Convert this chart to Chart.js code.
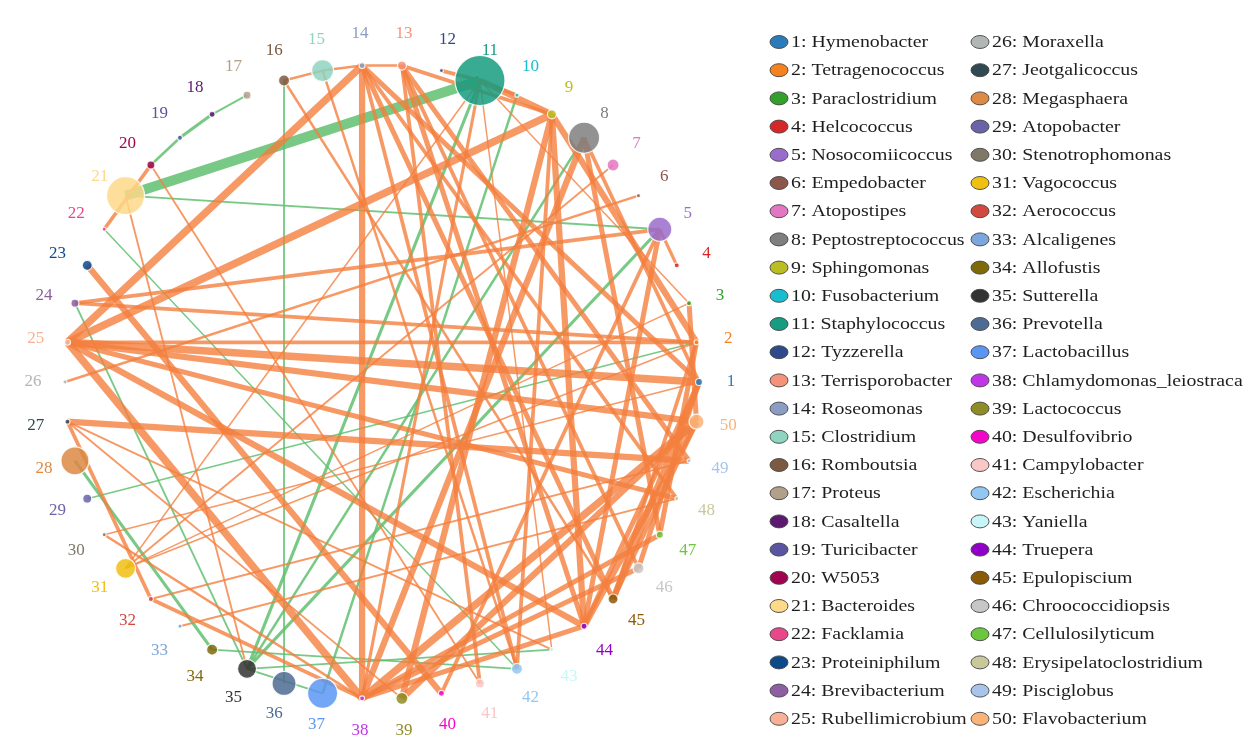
<!DOCTYPE html>
<html>
<head>
<meta charset="utf-8">
<title>Co-occurrence network</title>
<script src="https://cdn.jsdelivr.net/npm/chart.js@4.4.1/dist/chart.umd.min.js"></script>
<style>
  html, body { margin: 0; padding: 0; background: #ffffff; }
  #wrap { width: 1248px; height: 744px; position: relative; }
</style>
</head>
<body>
<div id="wrap"><canvas id="c" width="1248" height="744"></canvas></div>
<script>
// ---------------- DATA ----------------
const nodeNames = ["Hymenobacter","Tetragenococcus","Paraclostridium","Helcococcus","Nosocomiicoccus","Empedobacter","Atopostipes","Peptostreptococcus","Sphingomonas","Fusobacterium","Staphylococcus","Tyzzerella","Terrisporobacter","Roseomonas","Clostridium","Romboutsia","Proteus","Casaltella","Turicibacter","W5053","Bacteroides","Facklamia","Proteiniphilum","Brevibacterium","Rubellimicrobium","Moraxella","Jeotgalicoccus","Megasphaera","Atopobacter","Stenotrophomonas","Vagococcus","Aerococcus","Alcaligenes","Allofustis","Sutterella","Prevotella","Lactobacillus","Chlamydomonas_leiostraca","Lactococcus","Desulfovibrio","Campylobacter","Escherichia","Yaniella","Truepera","Epulopiscium","Chroococcidiopsis","Cellulosilyticum","Erysipelatoclostridium","Pisciglobus","Flavobacterium"];

// node weight (drawn as point radius)
const nodeWeight = [3.5,2.5,2.5,2.5,12,2,6,15.5,4.5,2,25,2,4.5,3,11,5.5,4,3,2.5,4,19,2,5,4,3,2,2.5,14,4.5,2,10,2.5,2,5.5,9.5,12,15,2.5,6,3,4.5,5.5,2,3,5,5.5,3.5,2,2,7.5];

// edges: source, target, strength, sign (1 positive, -1 negative)
const edgeFrom   = [17,18,19,21,21,22,16,24,28,29,34,35,35,11,10,8,5,
                    14,13,15,14,14,14,14,14,14,13,13,13,13,12,11,11,11,11,11,11,9,9,9,9,25,13,8,8,8,7,26,24,24,5,5,5,3,25,25,25,25,25,25,27,27,27,27,30,31,31,32,32,33,20,21,20,23,16,15,44,45,46,47,39,38,38,38,30,45,38,1,2];
const edgeTo     = [18,19,20,11,5,42,36,35,34,2,42,43,37,35,37,35,35,
                    15,14,16,25,38,45,1,48,42,49,41,46,44,11,10,9,3,43,31,38,2,39,44,42,9,9,38,47,1,31,6,5,2,4,44,40,50,2,1,50,44,38,48,49,39,32,43,1,3,2,49,38,48,22,35,41,40,45,42,50,1,1,2,50,50,46,44,38,50,47,44,45];
const edgeStrength = [1.5,2.5,2,8,1.5,1.2,1.5,1.5,2.5,1.2,1.5,1.5,1.5,2.5,2,2,2.5,
                    2,2,2,6,5,4,4,3,3,4,3,3,4,3,3,5,1.2,1.2,1.2,2.5,5,5,5,3,6,3,5,4,3,1.5,2,3,3,2.5,4,3,4,3,6,5,5,6,4,5,1.5,3,1.5,1.2,1.2,1.2,1.5,3,1.5,3,1.5,1.5,5,2,2,5,5,4,4,5,6,4,4,2,4,4,4,3];
const edgeSign   = [-1,-1,-1,-1,-1,-1,-1,-1,-1,-1,-1,-1,-1,-1,-1,-1,-1,
                    1,1,1,1,1,1,1,1,1,1,1,1,1,1,1,1,1,1,1,1,1,1,1,1,1,1,1,1,1,1,1,1,1,1,1,1,1,1,1,1,1,1,1,1,1,1,1,1,1,1,1,1,1,1,1,1,1,1,1,1,1,1,1,1,1,1,1,1,1,1,1,1];

// ---------------- STYLES ----------------
const nodeColors = ["#2b7bba","#f5811f","#33a02c","#d62728","#9a6ccd","#8c564b","#e377c2","#7f7f7f","#bcbd22","#17becf",
                    "#169c80","#2e4a8b","#f4937a","#8b9dc3","#8fd4c1","#7b5a41","#b3a088","#5b1a70","#5a55a0","#a0034f",
                    "#fdd98a","#e8488a","#0d4a8c","#8e5ea2","#f8b196","#b0b7b5","#2f4a52","#dc8a44","#6a63a8","#7f7868",
                    "#f0c010","#d2493f","#7ba7dc","#7f6a0a","#333333","#4e6b93","#5b97f2","#c135e8","#8e8c26","#f406c8",
                    "#f9c7c6","#92c7f3","#c8f5f7","#9000c8","#8a5a05","#c7c7c7","#6cc63e","#c8c89a","#a8c4ea","#f9b47a"];
const POS_COLOR = "rgba(244,128,62,0.80)";
const NEG_COLOR = "rgba(96,192,112,0.85)";
const WIDTH_SCALE = 1.25;
const LABEL_R = 1.101;

function hexA(h, a) {
  const n = parseInt(h.slice(1), 16);
  return `rgba(${(n >> 16) & 255},${(n >> 8) & 255},${n & 255},${a})`;
}
const N = nodeNames.length;
const nodeAngle = i => i * 2 * Math.PI / N;
const nodePos = i => ({ x: Math.cos(nodeAngle(i)), y: Math.sin(nodeAngle(i)) });

// ---------------- DATASETS ----------------
const datasets = [];
edgeFrom.forEach((s, k) => {
  const t = edgeTo[k];
  const neg = edgeSign[k] < 0;
  datasets.push({
    type: 'line',
    data: [nodePos(s - 1), nodePos(t - 1)],
    borderColor: neg ? NEG_COLOR : POS_COLOR,
    borderWidth: edgeStrength[k] * WIDTH_SCALE,
    pointRadius: 0,
    pointHoverRadius: 0,
    fill: false,
    tension: 0,
    order: neg ? 3 : 2
  });
});
datasets.push({
  type: 'scatter',
  data: nodeNames.map((n, i) => nodePos(i)),
  pointRadius: nodeWeight,
  pointHoverRadius: nodeWeight,
  backgroundColor: nodeColors.map(c => hexA(c, 0.85)),
  borderColor: 'rgba(255,255,255,0.85)',
  borderWidth: 1.2,
  order: 0
});

// ---------------- PLUGINS ----------------
const nodeLabels = {
  id: 'nodeLabels',
  afterDatasetsDraw(chart) {
    const { ctx, scales: { x, y } } = chart;
    ctx.save();
    ctx.font = '17px "Liberation Serif", "Times New Roman", serif';
    ctx.textAlign = 'center';
    ctx.textBaseline = 'middle';
    nodeNames.forEach((n, i) => {
      const a = nodeAngle(i);
      ctx.fillStyle = nodeColors[i];
      ctx.fillText(String(i + 1), x.getPixelForValue(LABEL_R * Math.cos(a)), y.getPixelForValue(LABEL_R * Math.sin(a)));
    });
    ctx.restore();
  }
};

const sideLegend = {
  id: 'sideLegend',
  afterDraw(chart) {
    const ctx = chart.ctx;
    const colX = [779, 980];
    const top = 42, step = 28.2;
    ctx.save();
    nodeNames.forEach((n, i) => {
      const col = Math.floor(i / 25), row = i % 25;
      const cx = colX[col], cy = top + row * step;
      ctx.beginPath();
      ctx.ellipse(cx, cy, 9, 6.5, 0, 0, 2 * Math.PI);
      ctx.fillStyle = nodeColors[i];
      ctx.fill();
      ctx.lineWidth = 1;
      ctx.strokeStyle = 'rgba(70,70,70,0.9)';
      ctx.stroke();
      ctx.save();
      ctx.translate(cx + 12, cy + 1);
      ctx.scale(1.24, 1);
      ctx.font = '16px "Liberation Serif", "Times New Roman", serif';
      ctx.fillStyle = '#1e1e1e';
      ctx.textAlign = 'left';
      ctx.textBaseline = 'middle';
      ctx.fillText(`${i + 1}: ${n}`, 0, 0);
      ctx.restore();
    });
    ctx.restore();
  }
};

new Chart(document.getElementById('c'), {
  data: { datasets },
  options: {
    responsive: false,
    animation: false,
    events: [],
    layout: { autoPadding: false, padding: { left: 0, top: 0, right: 484, bottom: 0 } },
    scales: {
      x: { type: 'linear', min: -1.205, max: 1.205, display: false },
      y: { type: 'linear', min: -1.142, max: 1.205, display: false }
    },
    plugins: { legend: { display: false }, tooltip: { enabled: false } }
  },
  plugins: [nodeLabels, sideLegend]
});
</script>
</body>
</html>
